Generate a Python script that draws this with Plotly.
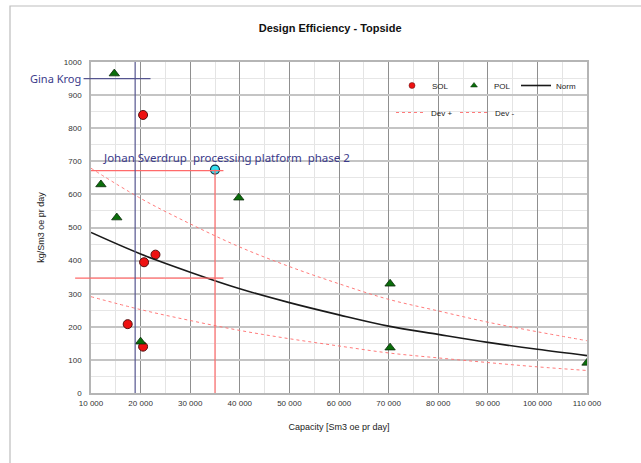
import plotly.graph_objects as go

# ---- data ----
sol_x = [17400, 20500, 20700, 23000, 20500]
sol_y = [208, 140, 395, 418, 840]

pol_x = [12000, 14700, 15200, 20000, 39800, 70300, 70300, 110000]
pol_y = [630, 965, 530, 155, 590, 330, 137, 91]

curve_x = [10000, 20000, 30000, 40000, 50000, 60000, 70000, 80000, 90000, 100000, 110000]
norm_y = [485, 420, 365, 315, 273, 236, 202, 177, 153, 132, 113]
dev_plus_y = [679, 588, 511, 441, 382, 330, 283, 248, 214, 185, 158]
dev_minus_y = [291, 252, 219, 189, 164, 142, 121, 106, 92, 79, 68]

johan_x, johan_y = 35000, 675
gina_x, gina_y = 18900, 950

x_range = [10000, 110000]
y_range = [0, 1000]

x_ticks = list(range(10000, 110001, 10000))
x_tick_labels = [f"{v:,}".replace(",", " ") for v in x_ticks]

W, H = 641, 463
ML, MR, MT, MB = 91, 54, 62, 70
PW, PH = W - ML - MR, H - MT - MB


def xp(v):
    return (v - x_range[0]) / (x_range[1] - x_range[0])


def yp(v):
    return (v - y_range[0]) / (y_range[1] - y_range[0])


def px_to_xp(px):
    return (px - ML) / PW


def px_to_yp(py):
    return (H - MB - py) / PH


sol_style = dict(symbol="circle", size=9, color="#ee1111", line=dict(color="#551111", width=1))
pol_style = dict(symbol="triangle-up", size=9, color="#0a6e0a", line=dict(color="#0a2a0a", width=0.8))
norm_style = dict(color="#1a1a1a", width=1.6, shape="spline")
dev_style = dict(color="#ff7a7a", width=1, dash="dot", shape="spline")

fig = go.Figure()

fig.add_trace(go.Scatter(x=sol_x, y=sol_y, mode="markers", name="SOL",
                         marker=sol_style, showlegend=False))
fig.add_trace(go.Scatter(x=pol_x, y=pol_y, mode="markers", name="POL",
                         marker=pol_style, showlegend=False))
fig.add_trace(go.Scatter(x=curve_x, y=norm_y, mode="lines", name="Norm",
                         line=norm_style, showlegend=False))
fig.add_trace(go.Scatter(x=curve_x, y=dev_plus_y, mode="lines", name="Dev +",
                         line=dev_style, showlegend=False))
fig.add_trace(go.Scatter(x=curve_x, y=dev_minus_y, mode="lines", name="Dev -",
                         line=dev_style, showlegend=False))
fig.add_trace(go.Scatter(
    x=[johan_x], y=[johan_y], mode="markers", name="Johan Sverdrup",
    marker=dict(symbol="circle", size=9, color="#33e0f0", line=dict(color="#113344", width=1.2)),
    showlegend=False, cliponaxis=False,
))

# legend entries (smaller symbols, as in the reference legend)
fig.add_trace(go.Scatter(x=[None], y=[None], mode="markers", name="SOL", legend="legend",
                         marker=dict(sol_style, size=6, line=dict(color="#551111", width=0.5))))
fig.add_trace(go.Scatter(x=[None], y=[None], mode="markers", name="POL", legend="legend",
                         marker=dict(pol_style, size=6, line=dict(color="#0a2a0a", width=0.5))))
fig.add_trace(go.Scatter(x=[None], y=[None], mode="lines", name="Norm", legend="legend",
                         line=dict(color="#1a1a1a", width=1.6)))
fig.add_trace(go.Scatter(x=[None], y=[None], mode="lines", name="Dev +", legend="legend2",
                         line=dict(color="#ff7a7a", width=1, dash="dot")))
fig.add_trace(go.Scatter(x=[None], y=[None], mode="lines", name="Dev -", legend="legend2",
                         line=dict(color="#ff7a7a", width=1, dash="dot")))

shapes = []
red = "#ff6a6a"
blue = "#55558f"
# Johan Sverdrup guide lines
shapes.append(dict(type="line", xref="paper", yref="paper",
                   x0=xp(johan_x), x1=xp(johan_x), y0=yp(johan_y), y1=0,
                   line=dict(color=red, width=1.2), layer="above"))
shapes.append(dict(type="line", xref="paper", yref="paper",
                   x0=0, x1=xp(36700), y0=yp(672), y1=yp(672),
                   line=dict(color=red, width=1.2), layer="above"))
shapes.append(dict(type="line", xref="paper", yref="paper",
                   x0=xp(6800), x1=xp(36700), y0=yp(347), y1=yp(347),
                   line=dict(color=red, width=1.2), layer="above"))
# Gina Krog guide lines
shapes.append(dict(type="line", xref="paper", yref="paper",
                   x0=xp(gina_x), x1=xp(gina_x), y0=1, y1=0,
                   line=dict(color=blue, width=1.2), layer="above"))
shapes.append(dict(type="line", xref="paper", yref="paper",
                   x0=xp(8500), x1=xp(22000), y0=yp(gina_y), y1=yp(gina_y),
                   line=dict(color=blue, width=1.2), layer="above"))
# outer frame
shapes.append(dict(type="rect", xref="paper", yref="paper",
                   x0=px_to_xp(10), x1=px_to_xp(W + 5), y0=px_to_yp(H + 5), y1=px_to_yp(6),
                   line=dict(color="#bdbdbd", width=1.2), layer="below"))

annotations = [
    dict(text="Gina Krog", xref="paper", yref="paper", x=xp(8450), y=yp(gina_y),
         xanchor="right", yanchor="middle", showarrow=False,
         font=dict(family="Noto Sans", size=11, color="#3a3a8a")),
    dict(text="Johan Sverdrup  processing platform  phase 2", xref="paper", yref="paper",
         x=xp(12000), y=yp(712), xanchor="left", yanchor="middle", showarrow=False,
         font=dict(family="Noto Sans", size=11.5, color="#3a3a8a")),
]

fig.update_layout(
    width=W, height=H,
    margin=dict(l=ML, r=MR, t=MT, b=MB, pad=0),
    paper_bgcolor="white", plot_bgcolor="white",
    font=dict(family="Liberation Sans, Arial", size=8, color="#222222"),
    title=dict(text="<b>Design Efficiency - Topside</b>", x=0.515, xanchor="center",
               y=1 - 28 / H, yanchor="middle", yref="container",
               font=dict(family="Liberation Sans, Arial", size=11, color="#111111")),
    shapes=shapes,
    annotations=annotations,
    showlegend=True,
    legend=dict(orientation="h", x=px_to_xp(392), y=px_to_yp(71), xanchor="left", yanchor="top",
                bgcolor="rgba(255,255,255,0)", font=dict(size=8, color="#222"),
                entrywidth=17, entrywidthmode="pixels", itemwidth=30),
    legend2=dict(orientation="h", x=px_to_xp(391), y=px_to_yp(98), xanchor="left", yanchor="top",
                 bgcolor="rgba(255,255,255,0)", font=dict(size=8, color="#222"),
                 entrywidth=19, entrywidthmode="pixels", itemwidth=30),
)

fig.update_xaxes(
    range=x_range, tickvals=x_ticks, ticktext=x_tick_labels,
    showgrid=True, gridcolor="#8f8f8f", gridwidth=1,
    minor=dict(dtick=5000, showgrid=True, gridcolor="#e4e4e4", gridwidth=1),
    showline=True, linecolor="#b5b5b5", linewidth=1.5, mirror=True,
    ticks="", zeroline=False, tickfont=dict(size=8, color="#333"), ticklabelstandoff=2,
    title=dict(text="Capacity [Sm3 oe pr day]", font=dict(size=9, color="#222"), standoff=16),
)
fig.update_yaxes(
    range=y_range, dtick=100,
    showgrid=True, gridcolor="#c4c4c4", gridwidth=1.6,
    minor=dict(dtick=50, showgrid=True, gridcolor="#e6e6e6", gridwidth=1),
    showline=True, linecolor="#b5b5b5", linewidth=1.5, mirror=True,
    ticks="", zeroline=False, tickfont=dict(size=8, color="#333"), ticklabelstandoff=6,
    title=dict(text="kg/Sm3 oe pr day", font=dict(size=9, color="#222"), standoff=18),
)

fig.write_html("out.html", config={"displayModeBar": False},
               post_script="document.body.style.margin='0px';")
